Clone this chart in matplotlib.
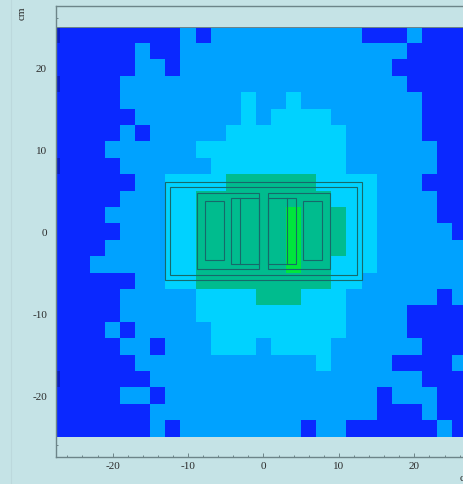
import numpy as np
import matplotlib
matplotlib.use("Agg")
import matplotlib.pyplot as plt
from matplotlib.colors import ListedColormap, BoundaryNorm
from matplotlib.patches import Rectangle
from matplotlib.lines import Line2D

# dose bin per 2 cm cell, top row first, x from -29 to 27
rows = [
    "0 11111111 2 1 2222222222 111 2 111",
    "111111 2 11 222222222222222 1111",
    "111111 22 1 22222222222222 11111",
    "0 1111 2222222222222222222 1111",
    "11111 22222222 3 22 3 22222222 111",
    "111111 2222222 3 2 3333 222222 111",
    "11111 2 1 22222 33333333 22222 111",
    "1111 222222 3333333333 222222 11",
    "0 1111 222222 333333333 222222 11",
    "111111 22 3333 444444 3333 222 111",
    "11111 222 33 444444444 333 2222 11",
    "1111 2222 33 444444 5 444 33 2222 11",
    "11111 222 33 444444 5 444 33 22222 1",
    "1111 2222 33 444444 5 444 33 222222",
    "111 22222 33 444444 5 44 333 222222",
    "111111 22 33 444444444 33 2222222",
    "11111 22222 3333 444 333 222222 1 2",
    "11111 22222 3333333333 2222 1111",
    "1111 2 1 22222 333333333 2222 1111",
    "11111 22 1 222 333 2 3333 222222 111",
    "111111 222222222222 3 2222 1111 2",
    "0 111111 222222222222222222 111",
    "11111 22 1 22222222222222 1 222 11",
    "1111111 222222222222222 111 2 11",
    "1111111 2 1 22222222 1 22 111111 2 1",
]
grid = np.array([[int(c) for c in r.replace(" ", "")] for r in rows])
x_edges = np.arange(-29, 28, 2)
y_edges = np.arange(25, -26, -2)

bin_colors = ["#0a1cc4", "#0a28ff", "#00a2ff", "#00d2ff", "#00bc8e", "#00e63c"]

# geometry outlines: x0, x1, y0, y1 in cm
outlines = [
    (-13.05, 13.05, -5.95, 6.05),
    (-12.4, 12.4, -5.35, 5.45),
    (-8.83, -0.57, -4.55, 4.7),
    (0.57, 8.83, -4.55, 4.7),
    (-7.77, -5.2, -3.5, 3.75),
    (5.2, 7.77, -3.5, 3.75),
    (-4.33, -0.57, -4.0, 4.1),
    (0.57, 4.33, -4.0, 4.1),
]
divider_x = [-3.13, 3.1]
divider_y = (-4.0, 4.1)

major_ticks = [-20, -10, 0, 10, 20]
major_labels = ["-20", "-10", "0", "10", "20"]
minor_ticks = [t for t in range(-26, 27, 2) if t % 10 != 0]

bg = "#c5e3e6"
axis_col = "#6d8589"
line_col = "#17696a"

plt.rcParams["font.family"] = ["Liberation Serif", "DejaVu Serif"]

fig = plt.figure(figsize=(4.64, 4.85), dpi=100, facecolor=bg)
# the axes run past the right edge of the picture, as in the original
ax = fig.add_axes([56 / 464, 27 / 485, 415 / 464, 451 / 485], facecolor=bg)

cmap = ListedColormap(bin_colors)
norm = BoundaryNorm(np.arange(-0.5, 6.5), cmap.N)
ax.pcolormesh(x_edges, y_edges, grid, cmap=cmap, norm=norm, shading="flat",
              linewidth=0, antialiased=False, zorder=1)

for x0, x1, y0, y1 in outlines:
    ax.add_patch(Rectangle((x0, y0), x1 - x0, y1 - y0, fill=False,
                           edgecolor=line_col, linewidth=0.8, zorder=3))
for x in divider_x:
    ax.plot([x, x], divider_y, color=line_col, linewidth=0.8, zorder=3)

ax.axhline(25, color=axis_col, linewidth=0.7, zorder=2)

ax.set_xlim(-27.5, 27.5)
ax.set_ylim(-27.5, 27.5)
ax.set_axisbelow(True)
ax.set_xticks(major_ticks, major_labels)
ax.set_yticks(major_ticks, major_labels)
ax.set_xticks(minor_ticks, minor=True)
ax.set_yticks(minor_ticks, minor=True)
ax.tick_params(which="major", direction="in", length=2.6, width=0.7, color=axis_col,
               labelsize=8, labelcolor="#2b2b2b", pad=3)
ax.tick_params(which="minor", direction="in", length=1.5, width=0.7, color=axis_col)
ax.tick_params(axis="y", which="major", pad=6.5)
ax.spines["right"].set_visible(False)
for s in ["left", "top", "bottom"]:
    ax.spines[s].set_color(axis_col)
    ax.spines[s].set_linewidth(1.0)

fig.add_artist(Line2D([11.5 / 464] * 2, [0, 1], color="#bcd8dc", linewidth=0.8))
fig.text(22 / 464, 1 - 13 / 485, "cm", rotation=90, ha="center", va="center",
         fontsize=8, color="#2b2b2b")
fig.text(459.5 / 464, 1 - 479 / 485, "cm", ha="left", va="center",
         fontsize=8, color="#2b2b2b")

fig.savefig("out.png", dpi=100, facecolor=bg)
